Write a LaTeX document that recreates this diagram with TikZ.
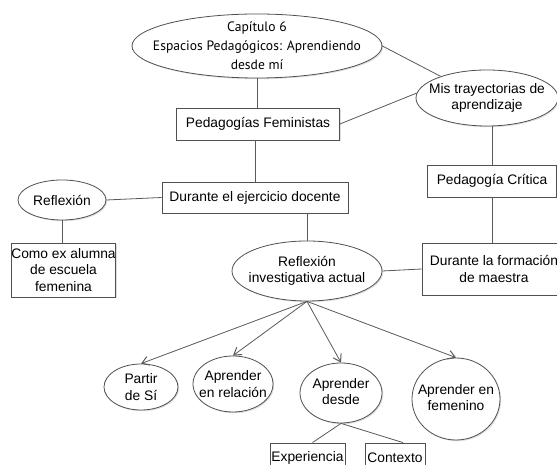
\documentclass[tikz,border=0pt]{standalone}
\usepackage{fontspec}
\setmainfont{Liberation Sans}
\newfontfamily\titlefont{PT Sans}
\usetikzlibrary{shapes.geometric,arrows.meta,shadows}

\definecolor{edgegray}{HTML}{505050}
\definecolor{linkgray}{HTML}{5A5A5A}

% lines of text raised inside an oval
\newcommand{\raisedlines}[2]{\raisebox{#1}{\begin{tabular}{@{}c@{}}#2\end{tabular}}}

\tikzset{
  every node/.style={font=\fontsize{13.8}{16.5}\selectfont, text=black, align=center, inner sep=0pt},
  boxnode/.style={rectangle, draw=edgegray, fill=white, line width=0.8pt,
    drop shadow={shadow xshift=1.2pt, shadow yshift=-1.2pt, opacity=0.25}},
  % the oval takes its size from minimum width/height only
  ovalnode/.style={ellipse, draw=edgegray, fill=white, line width=0.8pt,
    inner xsep=-120pt, inner ysep=-60pt,
    drop shadow={shadow xshift=1.2pt, shadow yshift=-1.2pt, opacity=0.25}},
  link/.style={draw=linkgray, line width=0.8pt},
  arrowlink/.style={link, -{Straight Barb[length=7pt, width=9pt, line width=1pt]}},
}

\begin{document}
\begin{tikzpicture}[x=1pt, y=1pt]
  \useasboundingbox (0,0) rectangle (557,465);
  \fill[white] (0,0) rectangle (557,465);
  \clip (0,0) rectangle (557,465);

  % upper part of the map
  \node[ovalnode, minimum width=250pt, minimum height=64pt,
        font=\titlefont\fontsize{13.6}{19}\selectfont] (top) at (257,419)
        {Capítulo 6\\Espacios Pedagógicos: Aprendiendo\\desde mí};
  \node[ovalnode, minimum width=142pt, minimum height=56pt] (mis) at (487,367)
        {Mis trayectorias de\\aprendizaje};
  \node[boxnode, minimum width=163pt, minimum height=32pt] (pf) at (258,341)
        {Pedagogías Feministas};
  \node[boxnode, minimum width=129pt, minimum height=32pt] (pc) at (492,284)
        {Pedagogía Crítica};

  % middle row
  \node[ovalnode, minimum width=88pt, minimum height=40pt] (refl) at (62,265)
        {Reflexión};
  \node[boxnode, minimum width=186pt, minimum height=31pt] (ded) at (255,267.5)
        {Durante el ejercicio docente};
  \node[boxnode, minimum width=103pt, minimum height=54pt] (como) at (63.5,195)
        {Como ex alumna\\de escuela\\femenina};
  \node[ovalnode, minimum width=150pt, minimum height=60pt] (ria) at (307,194)
        {Reflexión\\investigativa actual};
  \node[boxnode, minimum width=144pt, minimum height=52pt] (dfm) at (494,196)
        {Durante la formación\\de maestra};

  % lower part
  \node[ovalnode, minimum width=74pt, minimum height=46pt] (partir) at (141,78)
        {Partir\\de Sí};
  \node[ovalnode, minimum width=80pt, minimum height=56pt] (relacion) at (233,81)
        {Aprender\\en relación};
  \node[ovalnode, minimum width=82pt, minimum height=60pt] (desde) at (341,72)
        {\raisedlines{8pt}{Aprender\\desde}};
  \node[ovalnode, minimum width=88pt, minimum height=82pt] (femenino) at (456,66)
        {\raisedlines{10pt}{Aprender en\\femenino}};
  \node[boxnode, minimum width=75pt, minimum height=30pt] (exp) at (307.5,7)
        {Experiencia};
  \node[boxnode, minimum width=60pt, minimum height=30pt] (ctx) at (395,7)
        {Contexto};

  % connectors
  \draw[link] (top.south) -- (top.south |- pf.north);
  \draw[link] (top.east) -- (mis.155);
  \draw[link] (pf.east) -- (mis.176);
  \draw[link] (pc.north) -- (pc.north |- mis.south);
  \draw[link] (pc.south) -- (pc.south |- dfm.north);
  \draw[link] (ded.north |- pf.south) -- (ded.north);
  \draw[link] (refl.east) -- (ded.west);
  \draw[link] (refl.south) -- (refl.south |- como.north);
  \draw[link] (ria.north |- ded.south) -- (ria.north);
  \draw[link] (dfm.west) -- (ria.east);

  \draw[arrowlink] (ria.south) -- (partir.north);
  \draw[arrowlink] (ria.south) -- (relacion.north);
  \draw[arrowlink] (ria.south) -- (desde.north);
  \draw[arrowlink] (ria.south) -- (femenino.north);

  \draw[link] (desde.south) -- ([xshift=5pt]exp.north);
  \draw[link] (desde.south) -- ([xshift=8pt]ctx.north);
\end{tikzpicture}
\end{document}
